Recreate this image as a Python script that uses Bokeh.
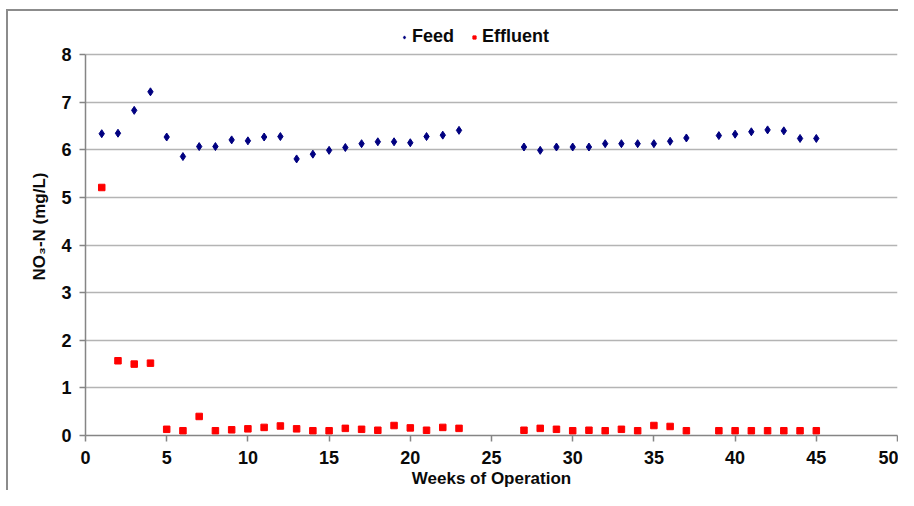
from bokeh.plotting import figure
from bokeh.models import Legend, LegendItem, Range1d, FixedTicker
from bokeh.embed import file_html
from bokeh.resources import INLINE

# Data
feed_weeks = [1, 2, 3, 4, 5, 6, 7, 8, 9, 10, 11, 12, 13, 14, 15, 16, 17, 18, 19, 20, 21, 22, 23,
              27, 28, 29, 30, 31, 32, 33, 34, 35, 36, 37, 39, 40, 41, 42, 43, 44, 45]
feed_values = [6.34, 6.35, 6.83, 7.22, 6.27, 5.86, 6.07, 6.07, 6.21, 6.19, 6.27, 6.28, 5.81, 5.91,
               5.99, 6.05, 6.13, 6.17, 6.17, 6.15, 6.28, 6.31, 6.41,
               6.06, 5.99, 6.06, 6.06, 6.06, 6.13, 6.13, 6.13, 6.13, 6.18, 6.25, 6.30, 6.33, 6.38,
               6.42, 6.40, 6.24, 6.24]
effluent_weeks = [1, 2, 3, 4, 5, 6, 7, 8, 9, 10, 11, 12, 13, 14, 15, 16, 17, 18, 19, 20, 21, 22, 23,
                  27, 28, 29, 30, 31, 32, 33, 34, 35, 36, 37, 39, 40, 41, 42, 43, 44, 45]
effluent_values = [5.21, 1.57, 1.50, 1.52, 0.13, 0.10, 0.40, 0.10, 0.12, 0.14, 0.17, 0.20, 0.14, 0.10,
                   0.10, 0.15, 0.13, 0.11, 0.21, 0.16, 0.11, 0.17, 0.15,
                   0.11, 0.15, 0.13, 0.10, 0.11, 0.10, 0.13, 0.10, 0.21, 0.19, 0.10, 0.10, 0.10, 0.10,
                   0.10, 0.10, 0.10, 0.10]
x_ticks = [0, 5, 10, 15, 20, 25, 30, 35, 40, 45, 50]
y_ticks = [0, 1, 2, 3, 4, 5, 6, 7, 8]

FONT = "Liberation Sans"

p = figure(width=898, height=490, output_backend="svg", toolbar_location=None,
           x_range=Range1d(0, 50), y_range=Range1d(0, 8.781),
           min_border_left=85, min_border_right=1, min_border_top=17, min_border_bottom=10)
p.outline_line_color = None
p.background_fill_color = "#ffffff"
p.border_fill_alpha = 0
p.styles = {
    "background": "linear-gradient(#8c8c8c,#8c8c8c) 6px 9px / 2px 100% no-repeat, "
                  "linear-gradient(#8c8c8c,#8c8c8c) 6px 9px / 100% 2px no-repeat, #ffffff"
}

r_feed = p.scatter(feed_weeks, feed_values, marker="diamond", size=8,
                   fill_color="#000080", line_color="#000080")
r_eff = p.scatter(effluent_weeks, effluent_values, marker="square", size=6.5,
                  fill_color="#ff0000", line_color="#ff0000")

p.xgrid.grid_line_color = None
p.ygrid.grid_line_color = "#b4b4b4"
p.ygrid.grid_line_width = 1.5
p.ygrid.ticker = FixedTicker(ticks=y_ticks[1:])

for ax in (p.xaxis[0], p.yaxis[0]):
    ax.axis_line_color = "#858585"
    ax.axis_line_width = 1.5
    ax.major_tick_line_color = "#858585"
    ax.major_tick_line_width = 1.5
    ax.major_tick_out = 6
    ax.major_tick_in = 0
    ax.minor_tick_line_color = None
    ax.major_label_text_font = FONT
    ax.major_label_text_font_style = "bold"
    ax.major_label_text_font_size = "18px"
    ax.major_label_text_color = "#0a0a0a"
    ax.axis_label_text_font = FONT
    ax.axis_label_text_font_style = "bold"
    ax.axis_label_text_font_size = "17px"
    ax.axis_label_text_color = "#0a0a0a"

p.xaxis[0].ticker = FixedTicker(ticks=x_ticks)
p.yaxis[0].ticker = FixedTicker(ticks=y_ticks)
p.yaxis[0].bounds = (0, 8)
p.xaxis[0].major_label_standoff = 9
p.xaxis[0].axis_label = "Weeks of Operation"
p.xaxis[0].axis_label_standoff = 2
p.yaxis[0].major_label_standoff = 8
p.yaxis[0].axis_label = "NO\u2083-N (mg/L)"
p.yaxis[0].axis_label_standoff = 9

legend = Legend(items=[LegendItem(label="Feed", renderers=[r_feed]),
                       LegendItem(label="Effluent", renderers=[r_eff])],
                orientation="horizontal", location=(315, 388),
                label_text_font=FONT, label_text_font_style="bold",
                label_text_font_size="18px", label_text_color="#0a0a0a",
                label_height=18,
                border_line_color=None, background_fill_alpha=0,
                glyph_width=8, glyph_height=14, label_standoff=4, spacing=16,
                padding=4, margin=0)
p.add_layout(legend, "center")

open("out.html", "w").write(file_html(p, INLINE))
